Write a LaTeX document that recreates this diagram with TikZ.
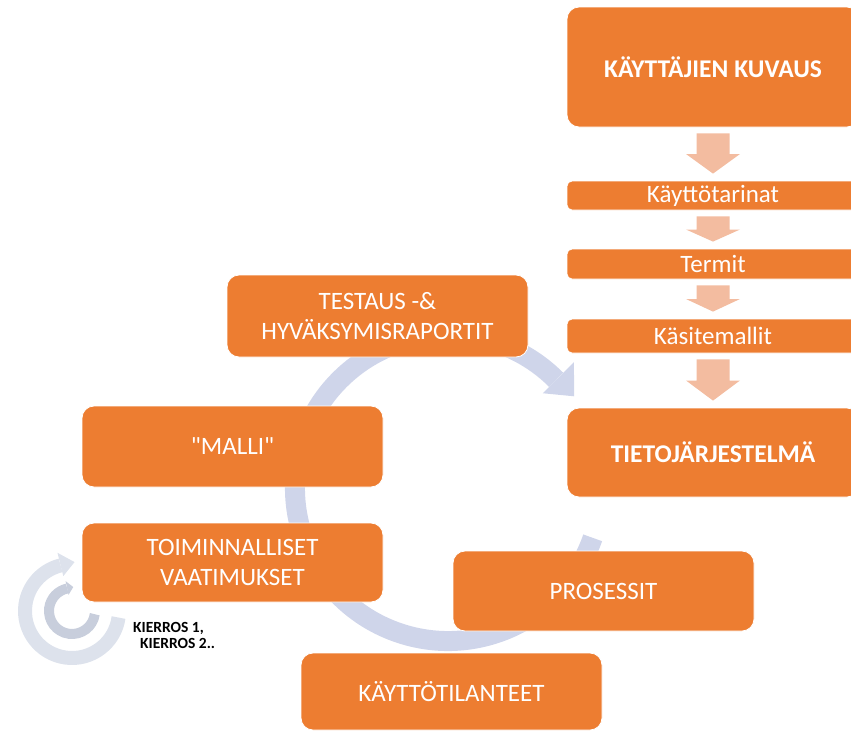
\documentclass[tikz,border=0pt]{standalone}
\usepackage{fontspec}
\setmainfont{Carlito}
\usetikzlibrary{calc}
\definecolor{orng}{HTML}{ED7D31}
\definecolor{peach}{HTML}{F3BCA0}
\definecolor{ringc}{HTML}{CFD5EA}
\definecolor{ringa}{HTML}{DDE2EC}
\definecolor{ringb}{HTML}{C8CEDC}
\newcommand\dnarrow[2]{%
  \fill[peach] let \p1=(#1.south), \p2=(#2.north), \n1={(\y1+\y2)/2} in
    (\x1-16.5pt,\y1-6pt) -- (\x1+16.5pt,\y1-6pt) -- (\x1+16.5pt,\n1) -- (\x1+27pt,\n1)
    -- (\x1,\y2+7pt) -- (\x1-27pt,\n1) -- (\x1-16.5pt,\n1) -- cycle;}
\begin{document}
\begin{tikzpicture}[x=1pt,y=-1pt,
  box/.style={fill=orng, draw=white, line width=0.8pt, rounded corners=12pt, text=white,
    font=\fontsize{25}{30}\selectfont, align=center, inner sep=0pt, minimum width=301pt},
  boldbox/.style={box, font=\fontsize{25.5}{30}\selectfont\bfseries, minimum width=292pt},
  barbox/.style={box, rounded corners=5pt, minimum width=292pt},
  kier/.style={font=\fontsize{15.5}{16}\selectfont\bfseries, text=black, align=left, inner sep=0pt}]
\useasboundingbox (0,0) rectangle (851,731);
\clip (0,0) rectangle (851,731);

% big cycle arrow
\begin{scope}[shift={(448,488)}, yscale=-1]
  \draw[ringc, line width=20pt] (-19:153) arc[start angle=-19, end angle=-315, radius=153];
  \fill[ringc] (45:134) -- (45:178) -- (36:156) -- cycle;
\end{scope}

% small round arrows
\begin{scope}[shift={(72,611)}, yscale=-1]
  \draw[ringa, line width=14pt] (-8:47) arc[start angle=-8, end angle=-256, radius=47];
  \fill[ringa] (104:36) -- (104:60) -- (87:49) -- cycle;
  \draw[ringb, line width=10pt] (-8:23) arc[start angle=-8, end angle=-258, radius=23];
  \fill[ringb] (102:16.5) -- (102:30.5) -- (87:24) -- cycle;
\end{scope}

% right column
\node[boldbox, minimum height=120pt] (kuv) at (713,67) {KÄYTTÄJIEN KUVAUS};
\node[barbox, minimum height=29pt] (kt) at (713,195.5) {Käyttötarinat};
\node[barbox, minimum height=30pt] (ter) at (713,264) {Termit};
\node[barbox, minimum height=34pt] (kas) at (713,336) {Käsitemallit};
\node[boldbox, minimum height=89pt] (tj) at (713,452.5) {TIETOJÄRJESTELMÄ};

\dnarrow{kuv}{kt}
\dnarrow{kt}{ter}
\dnarrow{ter}{kas}
\dnarrow{kas}{tj}

% cycle boxes
\node[box, minimum height=82pt] (tes) at (377.5,316) {TESTAUS -\&\\HYVÄKSYMISRAPORTIT};
\node[box, minimum height=81pt] (mal) at (232.5,446.5) {\textquotedbl MALLI\textquotedbl};
\node[box, minimum height=79pt] (toi) at (232.5,562.5) {TOIMINNALLISET\\VAATIMUKSET};
\node[box, minimum height=80pt] (pro) at (603.5,591) {PROSESSIT};
\node[box, minimum height=77pt] (kay) at (451.5,691.5) {KÄYTTÖTILANTEET};

\node[kier, anchor=north west] (kie) at (133,622) {KIERROS 1,\\\hspace*{7pt}KIERROS 2..};
\end{tikzpicture}
\end{document}
